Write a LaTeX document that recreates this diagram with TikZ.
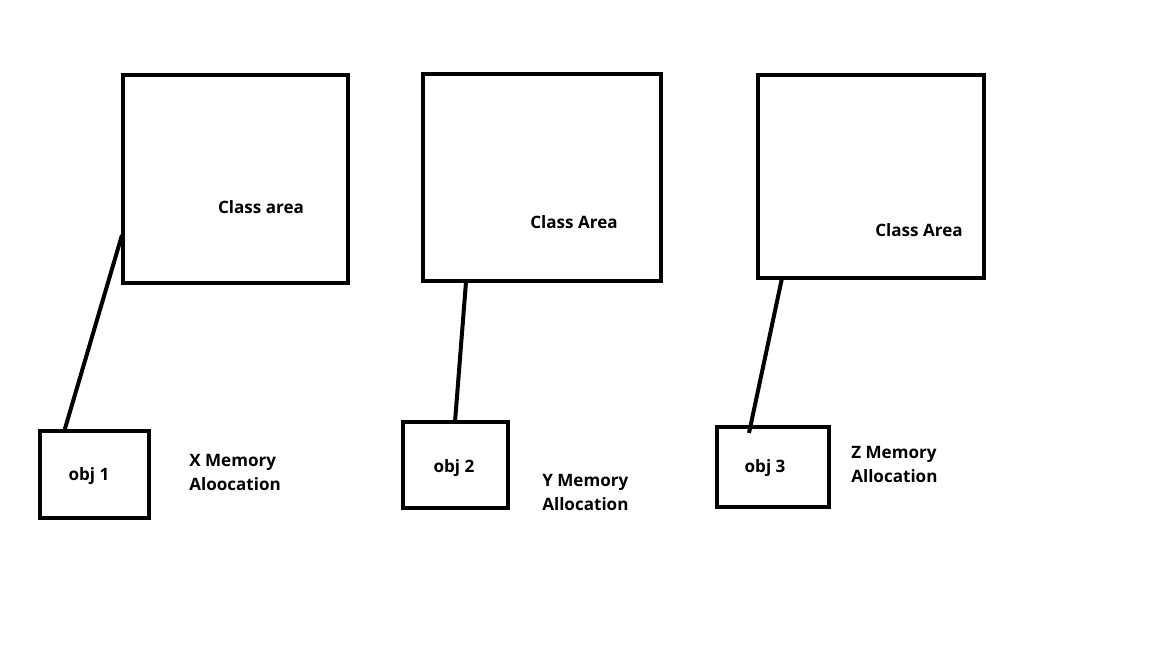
\documentclass[tikz,border=0pt]{standalone}
\usepackage{fontspec}
\setmainfont{Open Sans}
\begin{document}
\begin{tikzpicture}[x=0.75pt,y=-0.75pt,
  box/.style={draw,line width=3pt,inner sep=0pt,outer sep=0pt,anchor=north west},
  lbl/.style={font=\bfseries\fontsize{12.8}{15}\selectfont,inner sep=0pt},
  note/.style={font=\bfseries\fontsize{12.8}{18}\selectfont,inner sep=0pt,align=left,anchor=west},
  conn/.style={line width=3pt}]
\useasboundingbox[fill=white] (0,0) rectangle (1171,669);
\node[box,minimum width=168.75pt,minimum height=156pt] (c1) at (123,75) {};
\node[box,minimum width=178.5pt,minimum height=155.25pt] (c2) at (423,74) {};
\node[box,minimum width=169.5pt,minimum height=152.25pt] (c3) at (758,75) {};
\node[box,minimum width=81.75pt,minimum height=65.25pt] (o1) at (40,431) {};
\node[box,minimum width=78.75pt,minimum height=64.5pt] (o2) at (403,422) {};
\node[box,minimum width=84pt,minimum height=60pt] (o3) at (717,427) {};
\node[lbl] (t1) at (261,207) {Class area};
\node[lbl] (t2) at (574,222) {Class Area};
\node[lbl] (t3) at (919,230) {Class Area};
\node[lbl] (u1) at (89,476) {obj 1};
\node[lbl] (u2) at (454,468) {obj 2};
\node[lbl] (u3) at (765,468) {obj 3};
\node[note] (m1) at (189,472) {X Memory\\Aloocation};
\node[note] (m2) at (542,492) {Y Memory\\Allocation};
\node[note] (m3) at (851,464) {Z Memory\\Allocation};
\coordinate (a1) at (122,235);
\coordinate (b1) at (64,432);
\coordinate (a2) at (466,282);
\coordinate (b2) at (455,422);
\coordinate (a3) at (782,278);
\coordinate (b3) at (749,433);
\draw[conn] (a1) -- (b1);
\draw[conn] (a2) -- (b2);
\draw[conn] (a3) -- (b3);
\end{tikzpicture}
\end{document}
